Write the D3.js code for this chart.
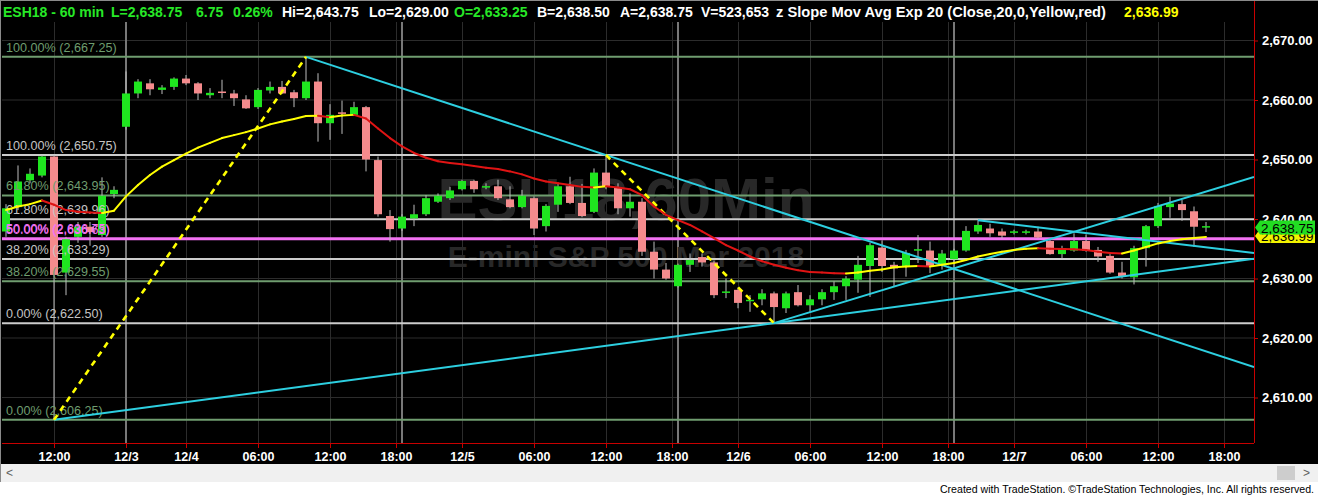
<!DOCTYPE html>
<html><head><meta charset="utf-8">
<script src="https://cdn.jsdelivr.net/npm/d3@7"></script>
<style>body{margin:0;background:#fff;overflow:hidden}svg{display:block}</style>
</head><body><svg id="c" width="1318" height="497"></svg>
<script>
// ---------- DATA ----------
const opens  = [2637.9,2642.0,2646.5,2647.3,2650.5,2631.0,2637.0,2638.7,2637.3,2644.2,
2655.5,2661.1,2662.8,2661.7,2662.2,2663.6,2662.8,2660.8,2661.4,2661.1,
2660.1,2658.8,2661.6,2662.2,2661.3,2660.3,2663.1,2656.1,2657.9,2657.5,
2658.8,2649.9,2640.5,2638.4,2640.1,2640.8,2642.9,2643.5,2645.0,2646.4,
2645.3,2645.5,2643.3,2642.0,2643.5,2638.8,2642.4,2645.5,2642.7,2641.2,
2647.8,2645.3,2641.8,2642.9,2634.5,2631.5,2628.7,2632.3,2633.6,2632.7,
2627.6,2628.1,2626.2,2626.5,2627.5,2625.0,2627.7,2625.5,2626.5,2627.7,
2628.7,2629.8,2632.1,2635.2,2632.3,2632.1,2634.7,2634.7,2632.3,2633.25,
2634.7,2637.9,2638.4,2637.9,2637.7,2637.7,2637.9,2636.3,2634.1,2634.7,
2636.3,2634.8,2633.8,2631.0,2630.2,2635.1,2638.8,2642.0,2642.5,2641.3,2638.6];
const highs  = [2642.5,2649.0,2648.5,2650.75,2650.75,2637.0,2639.5,2639.5,2647.0,2645.5,
2664.8,2663.5,2663.5,2662.5,2663.8,2664.2,2663.0,2662.0,2663.4,2661.7,
2660.8,2662.0,2663.1,2663.2,2661.7,2667.25,2664.5,2659.3,2659.9,2659.7,
2659.0,2650.5,2641.5,2640.8,2642.4,2644.0,2644.3,2645.4,2646.6,2646.6,
2646.0,2646.6,2645.5,2644.9,2643.8,2642.5,2646.0,2647.1,2645.9,2648.5,
2650.75,2646.0,2644.3,2643.5,2636.2,2632.6,2632.5,2634.2,2634.2,2633.0,
2630.0,2628.5,2627.2,2628.2,2627.8,2627.8,2628.9,2627.2,2628.2,2629.5,
2630.4,2633.8,2636.0,2636.4,2632.8,2634.8,2637.3,2636.2,2634.8,2635.0,
2638.8,2639.8,2639.2,2638.4,2638.2,2638.2,2638.7,2636.6,2635.5,2637.6,
2637.4,2635.3,2634.1,2632.8,2635.5,2639.0,2642.7,2643.75,2643.2,2642.1,2639.5];
const lows   = [2637.0,2641.5,2646.0,2647.0,2606.25,2627.2,2636.0,2635.5,2637.0,2643.5,
2655.0,2660.3,2660.8,2661.0,2661.7,2662.5,2660.0,2660.3,2660.3,2659.0,
2658.5,2658.5,2661.1,2661.0,2658.8,2660.0,2653.0,2653.3,2654.3,2657.3,
2648.0,2640.4,2636.2,2638.0,2638.8,2640.5,2642.7,2643.2,2644.8,2644.4,
2645.0,2643.2,2641.8,2641.8,2637.3,2637.9,2641.2,2642.5,2640.3,2641.0,
2645.0,2640.8,2640.4,2633.8,2630.0,2629.8,2628.5,2631.1,2632.0,2626.7,
2626.7,2625.0,2624.4,2625.5,2622.5,2624.2,2625.3,2624.4,2625.5,2626.4,
2626.4,2627.6,2626.9,2631.1,2628.6,2630.3,2632.6,2630.9,2631.5,2632.8,
2634.5,2637.5,2637.0,2636.7,2637.4,2637.4,2636.7,2634.0,2633.3,2634.5,
2634.5,2632.8,2630.8,2630.0,2629.0,2632.0,2638.5,2640.2,2639.7,2635.3,2637.8];
const closes = [2641.8,2646.3,2647.6,2650.5,2630.6,2636.6,2638.7,2637.8,2643.9,2644.9,
2661.1,2663.1,2661.8,2662.1,2663.6,2662.8,2661.1,2661.2,2661.2,2660.3,
2658.6,2661.7,2662.2,2661.1,2660.3,2663.1,2656.1,2657.5,2657.7,2658.8,
2650.0,2640.8,2638.3,2640.4,2640.8,2643.5,2643.9,2644.8,2646.4,2645.0,
2645.5,2643.5,2642.0,2643.9,2638.4,2642.2,2645.5,2642.7,2640.5,2647.8,
2645.4,2641.8,2642.9,2634.5,2631.5,2630.0,2632.3,2633.1,2632.7,2627.2,
2627.8,2625.9,2626.4,2627.5,2625.2,2627.5,2625.5,2626.5,2627.7,2628.7,
2630.0,2632.3,2635.6,2632.1,2631.7,2634.3,2634.9,2632.0,2634.2,2634.7,
2638.0,2639.0,2637.6,2637.2,2637.9,2637.9,2636.9,2634.1,2635.1,2636.3,
2634.7,2633.7,2631.0,2630.3,2635.1,2638.8,2642.2,2642.6,2641.5,2638.7,2638.75];
const emaValues = [2641.5,2642.1,2642.5,2643.1,2642.4,2641.5,2641.2,2641.1,2641.0,2641.4,
2643.8,2645.7,2647.4,2648.8,2649.9,2651.0,2652.0,2652.8,2653.6,2654.1,
2654.6,2655.2,2655.9,2656.4,2656.8,2657.3,2657.35,2657.1,2657.4,2657.5,
2656.9,2655.2,2653.6,2652.2,2651.1,2650.3,2649.7,2649.4,2649.2,2648.9,
2648.6,2648.4,2648.0,2647.5,2646.8,2646.3,2646.0,2645.7,2645.4,2645.3,
2645.5,2645.3,2645.0,2644.0,2642.1,2640.7,2639.8,2639.0,2637.9,2636.8,
2635.6,2634.7,2633.7,2632.9,2632.3,2631.8,2631.4,2631.1,2631.0,2630.9,
2630.85,2631.0,2631.3,2631.5,2631.9,2632.0,2632.1,2632.0,2632.3,2632.6,
2633.1,2633.7,2634.1,2634.5,2634.8,2635.0,2635.1,2635.0,2634.95,2634.9,
2634.8,2634.5,2634.3,2634.2,2634.7,2635.3,2635.9,2636.3,2636.6,2636.8,2636.99];

const timeTickIdx    = [4,10,15,21,27,32.5,38,44,50,55.5,61,67,73,78.5,84,90,96,101.5];
const timeTickLabels = ["12:00","12/3","12/4","06:00","12:00","18:00","12/5","06:00","12:00","18:00","12/6","06:00","12:00","18:00","12/7","06:00","12:00","18:00"];
const priceTicks = [2610,2620,2630,2640,2650,2660,2670];
const sessionBreakIdx = [10,33,56,79];

const fibPrices = [2667.25,2650.75,2643.95,2639.96,2636.75,2636.63,2633.29,2629.55,2622.50,2606.25];
const fibLabels = ["100.00% (2,667.25)","100.00% (2,650.75)","61.80% (2,643.95)","61.80% (2,639.96)","50.00% (2,636.75)","50.00% (2,636.63)","38.20% (2,633.29)","38.20% (2,629.55)","0.00% (2,622.50)","0.00% (2,606.25)"];
const fibSet = ["A","B","A","B","M","M","B","A","B","A"];

// trend lines: [index1, price1, index2, price2]
const trendLines = [[25,2667.25,104,2615.1],[4,2606.25,104,2633.3],[64,2622.5,104,2647.06],[81,2639.8,104,2634.3]];
const dashedLines = [[4,2606.25,25,2667.25],[50,2650.75,64,2622.5]];

const lastPrice = 2638.75, lastEma = 2636.99;
const headerParts = [["ESH18 - 60 min",3,"g"],["L=2,638.75",111,"g"],["6.75",196,"g"],["0.26%",233,"g"],
 ["Hi=2,643.75",282,"w"],["Lo=2,629.00",369,"w"],["O=2,633.25",454,"g"],["B=2,638.50",537,"w"],
 ["A=2,638.75",620,"w"],["V=523,653",701,"w"],["z Slope Mov Avg Exp 20 (Close,20,0,Yellow,red)",776,"w"],["2,636.99",1124,"y"]];

// ---------- DRAW ----------
const W=1318,H=497, pL=2, pR=1254, pT=22, pB=443;
const FONT="'Liberation Sans', Arial, sans-serif";
const x = d3.scaleLinear().domain([0,104]).range([6,1254]);
const y = d3.scaleLinear().domain([2610,2670]).range([397.5,40.5]);
const svg = d3.select("#c").style("font-family",FONT);

svg.append("rect").attr("width",W).attr("height",H).attr("fill","#fff");
svg.append("rect").attr("width",W).attr("height",464).attr("fill","#000");
svg.append("defs").append("clipPath").attr("id","plot").append("rect")
  .attr("x",pL).attr("y",pT).attr("width",pR-pL).attr("height",pB-pT);

const g = svg.append("g").attr("clip-path","url(#plot)");

// faint grid
g.selectAll(".hg").data(priceTicks).join("line")
  .attr("x1",pL).attr("x2",pR).attr("y1",d=>y(d)).attr("y2",d=>y(d))
  .attr("stroke","#2c2c2c").attr("stroke-width",1);
g.selectAll(".vg").data(timeTickIdx).join("line")
  .attr("x1",d=>Math.round(x(d))+0.5).attr("x2",d=>Math.round(x(d))+0.5).attr("y1",pT).attr("y2",pB)
  .attr("stroke","#2c2c2c").attr("stroke-width",1);
g.selectAll(".sb").data(sessionBreakIdx).join("line")
  .attr("x1",d=>x(d)).attr("x2",d=>x(d)).attr("y1",pT).attr("y2",pB)
  .attr("stroke","#787878").attr("stroke-width",2);

// watermark
g.append("text").attr("x",626).attr("y",220).attr("text-anchor","middle")
  .attr("font-size",60).attr("font-weight","bold").attr("fill","#282828").text("ESH18,60Min");
g.append("text").attr("x",626).attr("y",267).attr("text-anchor","middle")
  .attr("font-size",30).attr("font-weight","bold").attr("fill","#282828").text("E-mini S&P 500 Mar 2018");

// fib lines
const fibColor = {A:"#6f9d6f",B:"#cccccc",M:"#f272f2"};
const fibText  = {A:"#6f9d6f",B:"#c4c4c4",M:"#f272f2"};
g.selectAll(".fib").data(fibPrices).join("line")
  .attr("x1",pL).attr("x2",pR).attr("y1",d=>y(d)).attr("y2",d=>y(d))
  .attr("stroke",(d,i)=>fibColor[fibSet[i]]).attr("stroke-width",(d,i)=>fibSet[i]==="M"?2.2:2);

// candles
const idx = d3.range(opens.length);
g.selectAll(".wick").data(idx).join("line")
  .attr("x1",i=>x(i)).attr("x2",i=>x(i)).attr("y1",i=>y(highs[i])).attr("y2",i=>y(lows[i]))
  .attr("stroke","#bdbdbd").attr("stroke-width",1);
g.selectAll(".body").data(idx).join("rect")
  .attr("x",i=>x(i)-4).attr("width",8)
  .attr("y",i=>{const t=y(Math.max(opens[i],closes[i])),b=y(Math.min(opens[i],closes[i]));return b-t<1.5?(t+b)/2-0.75:t;})
  .attr("height",i=>Math.max(1.5,Math.abs(y(opens[i])-y(closes[i]))))
  .attr("fill",i=>closes[i]>=opens[i]?"#1fe51f":"#f58b8d");

// fib labels (on top of candles)
g.selectAll(".fibl").data(fibLabels).join("text")
  .attr("x",6).attr("y",(d,i)=>y(fibPrices[i])-5).attr("font-size",12.6)
  .attr("fill",(d,i)=>fibText[fibSet[i]]).text(d=>d);

// trend lines
g.selectAll(".tl").data(trendLines).join("line")
  .attr("x1",d=>x(d[0])).attr("y1",d=>y(d[1])).attr("x2",d=>x(d[2])).attr("y2",d=>y(d[3]))
  .attr("stroke","#2dcfe0").attr("stroke-width",2);
g.selectAll(".dl").data(dashedLines).join("line")
  .attr("x1",d=>x(d[0])).attr("y1",d=>y(d[1])).attr("x2",d=>x(d[2])).attr("y2",d=>y(d[3]))
  .attr("stroke","#ffff00").attr("stroke-width",2.6).attr("stroke-dasharray","6,5");

// EMA
const segs = d3.range(1,emaValues.length);
g.selectAll(".ema").data(segs).join("line")
  .attr("x1",i=>x(i-1)).attr("y1",i=>y(emaValues[i-1])).attr("x2",i=>x(i)).attr("y2",i=>y(emaValues[i]))
  .attr("stroke",i=>emaValues[i]>=emaValues[i-1]?"#ffff00":"#e01414")
  .attr("stroke-width",2).attr("stroke-linecap","round");

// axes
const xa = svg.append("g").attr("transform",`translate(0,${pB})`)
  .call(d3.axisBottom(x).tickValues(timeTickIdx).tickFormat((d,i)=>timeTickLabels[i]).tickSize(5).tickPadding(4).tickSizeOuter(0));
xa.select(".domain").remove();
xa.selectAll("line").attr("stroke","#c80000");
xa.selectAll("text").attr("fill","#fff").attr("font-size",12.5).attr("font-weight","bold").attr("font-family",FONT);

const ya = svg.append("g").attr("transform",`translate(${pR},0)`)
  .call(d3.axisRight(y).tickValues(priceTicks).tickFormat(d3.format(",.2f")).tickSize(4).tickPadding(4).tickSizeOuter(0));
ya.select(".domain").remove();
ya.selectAll("line").attr("stroke","#c80000");
ya.selectAll("text").attr("fill","#fff").attr("font-size",13).attr("font-weight","bold").attr("font-family",FONT);

svg.append("line").attr("x1",pL).attr("x2",pR).attr("y1",pB+0.5).attr("y2",pB+0.5).attr("stroke","#c80000");
svg.append("line").attr("x1",pR+0.5).attr("x2",pR+0.5).attr("y1",0).attr("y2",pB).attr("stroke","#c80000");

// price boxes
function tag(val,yc,fill){
  const gg=svg.append("g");
  gg.append("path").attr("d",`M${pR+1},${yc} L${pR+6},${yc-7} L1315,${yc-7} L1315,${yc+7} L${pR+6},${yc+7} Z`).attr("fill",fill);
  gg.append("text").attr("x",1261).attr("y",yc+5).attr("font-size",13.5).attr("fill","#000").text(d3.format(",.2f")(val));
}
tag(lastEma,236,"#f2f200");
tag(lastPrice,227.5,"#22dd22");

// header
const hc={g:"#27e827",w:"#ffffff",y:"#ffff00"};
const hdr = svg.selectAll(".hdr").data(headerParts).join("text")
  .attr("x",d=>d[1]).attr("y",17).attr("font-size",14).attr("font-weight","bold")
  .attr("fill",d=>hc[d[2]]).text(d=>d[0]);
hdr.filter(d=>d[0].startsWith("z ")).attr("textLength",330).attr("lengthAdjust","spacingAndGlyphs");

// borders
svg.append("line").attr("x1",0).attr("x2",W).attr("y1",0.5).attr("y2",0.5).attr("stroke","#8a8a8a");
svg.append("line").attr("x1",0.5).attr("x2",0.5).attr("y1",0).attr("y2",482).attr("stroke","#8a8a8a");

// scrollbar
svg.append("rect").attr("x",1).attr("y",464).attr("width",W-1).attr("height",18).attr("fill","#f0f0f0");
svg.append("rect").attr("x",1277).attr("y",466).attr("width",18).attr("height",14).attr("fill","#cdcdcd");
svg.append("text").attr("x",6).attr("y",477).attr("font-size",12).attr("fill","#606060").text("<");
svg.append("text").attr("x",1303).attr("y",477).attr("font-size",12).attr("fill","#606060").text(">");

// footer
svg.append("text").attr("x",1314).attr("y",493).attr("text-anchor","end").attr("font-size",10.6)
  .attr("fill","#000")
  .text("Created with TradeStation. \u00A9TradeStation Technologies, Inc. All rights reserved.");
</script></body></html>
